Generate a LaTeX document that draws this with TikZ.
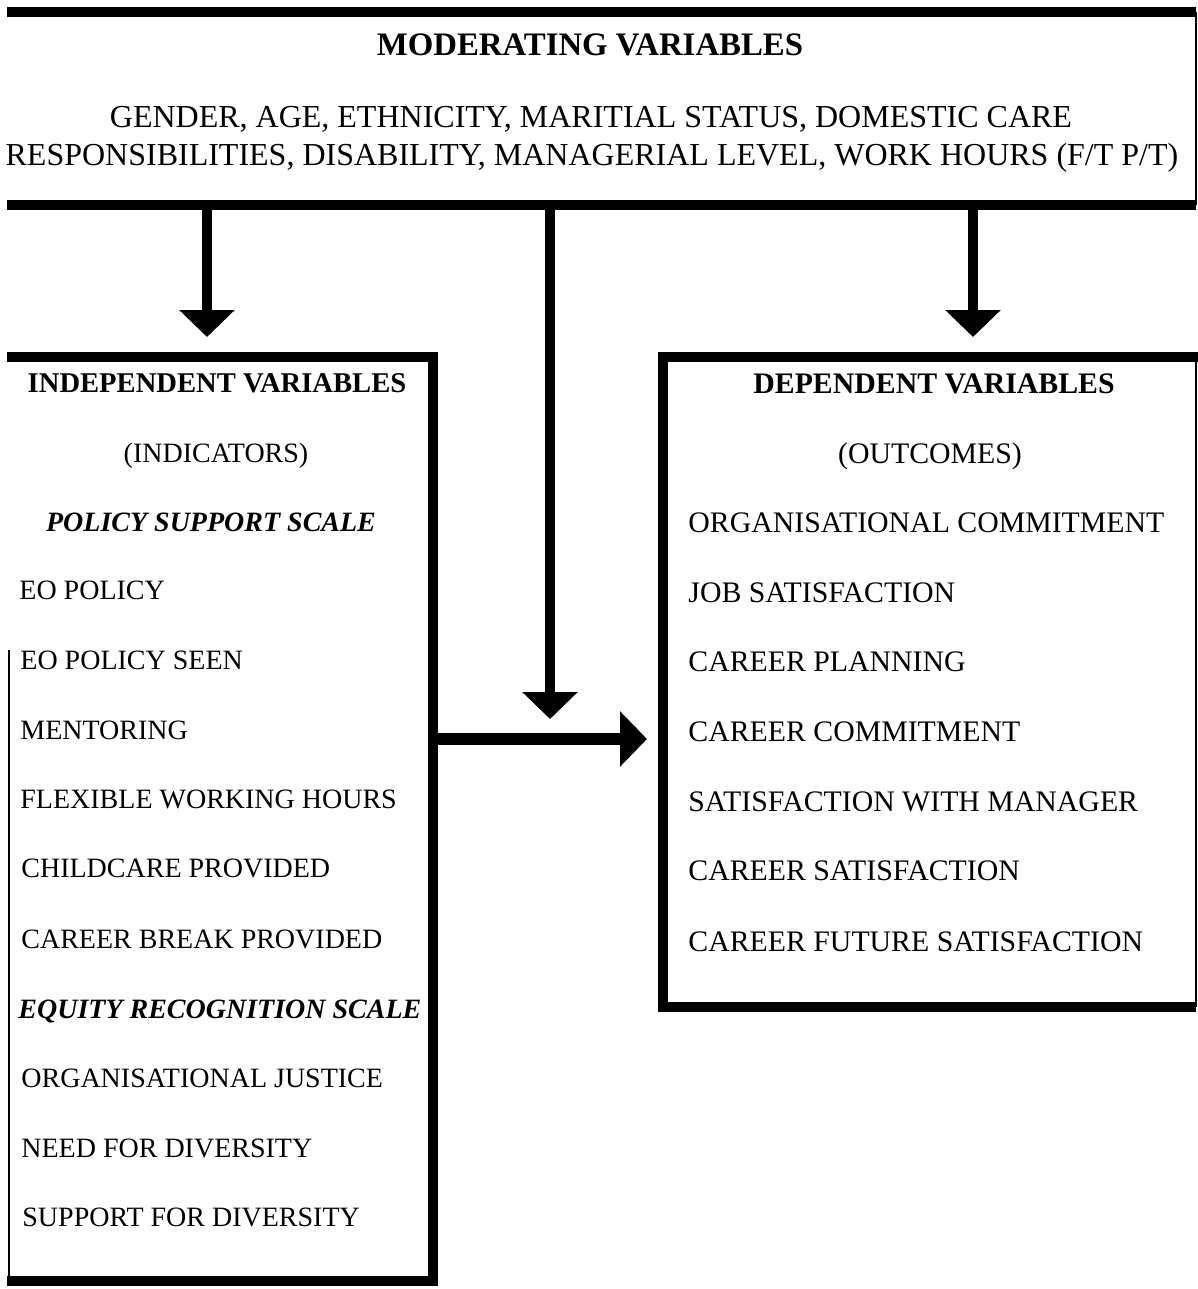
\documentclass[tikz,border=0pt]{standalone}
\usepackage{fontspec}
\setmainfont{Liberation Serif}
\usetikzlibrary{arrows.meta,fit}

\tikzset{
  heavy/.style={line width=5pt, line join=miter},
  hair/.style={line width=1pt},
  flow/.style={line width=5pt, -{Triangle[length=13.5pt,width=27pt]}},
  boxarea/.style={inner sep=0pt, outer sep=0pt},
  topfont/.style={font=\fontsize{16}{19}\selectfont, inner sep=0pt},
  leftfont/.style={font=\fontsize{14}{17}\selectfont, inner sep=0pt},
  rightfont/.style={font=\fontsize{14.9}{17}\selectfont, inner sep=0pt},
  litem/.style={leftfont, anchor=base west},
  ritem/.style={rightfont, anchor=base west},
}

\begin{document}
\begin{tikzpicture}[x=0.5pt, y=-0.5pt]
\useasboundingbox (0,0) rectangle (1198,1289);

% frames of the three panels
\node[boxarea, fit={(7,12) (1196,205)}] (mod) {};
\node[boxarea, fit={(7,357) (433,1281)}] (ind) {};
\node[boxarea, fit={(663,357) (1196,1007)}] (dep) {};

% moderating panel: heavy rules above and below, hairline on the right
\draw[heavy] (mod.north west) -- (mod.north east);
\draw[heavy] (mod.south west) -- (mod.south east);
\draw[hair] (mod.north east) -- (mod.south east);

% independent panel
\draw[heavy] (ind.north west) -- (ind.north east) -- (ind.south east) -- (ind.south west);
\coordinate (leftstart) at (9,650);
\draw[hair] (ind.south west -| leftstart) -- (leftstart);

% dependent panel
\draw[heavy] ([xshift=1.5pt]dep.north east) -- (dep.north west) -- (dep.south west) -- (dep.south east);
\draw[hair] (dep.north east) -- (dep.south east);

% texts of the moderating panel
\node[topfont, font=\fontsize{16.4}{19}\selectfont\bfseries, anchor=base] (modtitle) at (590,56) {MODERATING VARIABLES};
\node[topfont, anchor=base] (modline1) at (591,128) {GENDER, AGE, ETHNICITY, MARITIAL STATUS, DOMESTIC CARE};
\node[topfont, anchor=base] (modline2) at (592,166) {RESPONSIBILITIES, DISABILITY, MANAGERIAL LEVEL, WORK HOURS (F/T P/T)};

% texts of the independent panel
\node[leftfont, font=\fontsize{14.3}{17}\selectfont\bfseries, anchor=base] (indtitle) at (217,392) {INDEPENDENT VARIABLES};
\node[leftfont, anchor=base] (indsub) at (216,462) {(INDICATORS)};
\node[leftfont, font=\fontsize{14}{17}\selectfont\bfseries\itshape, anchor=base] (pss) at (211,531) {POLICY SUPPORT SCALE};
\node[litem] (i1) at (19,599) {EO POLICY};
\node[litem] (i2) at (20,669) {EO POLICY SEEN};
\node[litem] (i3) at (20,739) {MENTORING};
\node[litem] (i4) at (20,808) {FLEXIBLE WORKING HOURS};
\node[litem] (i5) at (21,877) {CHILDCARE PROVIDED};
\node[litem] (i6) at (21,948) {CAREER BREAK PROVIDED};
\node[litem, font=\fontsize{14}{17}\selectfont\bfseries\itshape] (ers) at (18,1018) {EQUITY RECOGNITION SCALE};
\node[litem] (i7) at (21,1087) {ORGANISATIONAL JUSTICE};
\node[litem] (i8) at (21,1157) {NEED FOR DIVERSITY};
\node[litem] (i9) at (22,1226) {SUPPORT FOR DIVERSITY};

% texts of the dependent panel
\node[rightfont, font=\fontsize{14.9}{17}\selectfont\bfseries, anchor=base] (deptitle) at (934,393) {DEPENDENT VARIABLES};
\node[rightfont, anchor=base] (depsub) at (930,463) {(OUTCOMES)};
\node[ritem] (o1) at (688,532) {ORGANISATIONAL COMMITMENT};
\node[ritem] (o2) at (688,602) {JOB SATISFACTION};
\node[ritem] (o3) at (688,671) {CAREER PLANNING};
\node[ritem] (o4) at (688,741) {CAREER COMMITMENT};
\node[ritem] (o5) at (688,811) {SATISFACTION WITH MANAGER};
\node[ritem] (o6) at (688,880) {CAREER SATISFACTION};
\node[ritem] (o7) at (688,951) {CAREER FUTURE SATISFACTION};

% connectors
\coordinate (xleft) at (207,0);
\coordinate (xright) at (973,0);
\coordinate (join) at (550,739);
\draw[flow, shorten >=10pt] (mod.south -| xleft) -- (ind.north -| xleft);
\draw[flow, shorten >=10pt] (mod.south -| xright) -- (dep.north -| xright);
\draw[flow, shorten >=10pt] (mod.south -| join) -- (join);
\draw[flow, line width=6pt, shorten >=8pt] (ind.east |- join) -- (dep.west |- join);
\end{tikzpicture}
\end{document}
